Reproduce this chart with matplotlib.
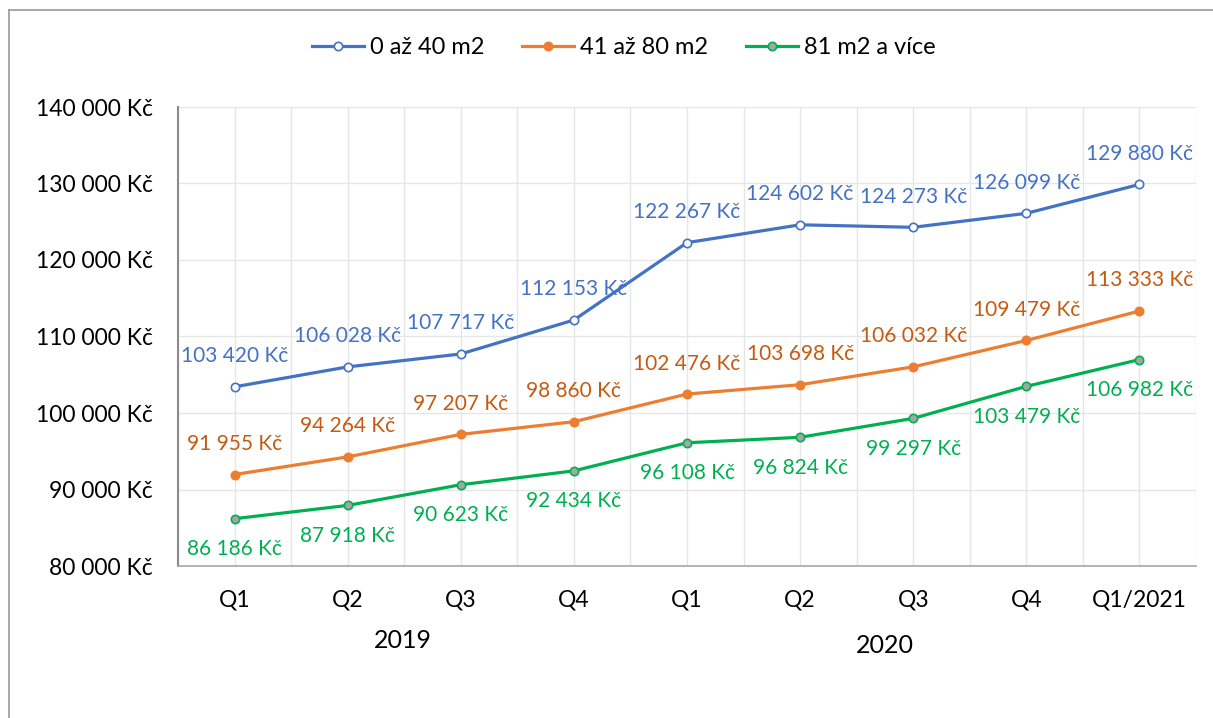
import matplotlib
matplotlib.use('Agg')
import matplotlib.pyplot as plt
from matplotlib.lines import Line2D

plt.rcParams['font.family'] = ['Lato', 'DejaVu Sans']

# data (Kč)
quarters = ['Q1', 'Q2', 'Q3', 'Q4', 'Q1', 'Q2', 'Q3', 'Q4', 'Q1/2021']
small = [103420, 106028, 107717, 112153, 122267, 124602, 124273, 126099, 129880]
medium = [91955, 94264, 97207, 98860, 102476, 103698, 106032, 109479, 113333]
large = [86186, 87918, 90623, 92434, 96108, 96824, 99297, 103479, 106982]
series_names = ['0 až 40 m2', '41 až 80 m2', '81 m2 a více']
yticks = [80000, 90000, 100000, 110000, 120000, 130000, 140000]


def kc(v):
    return '{:,}'.format(v).replace(',', ' ') + ' Kč'


fig = plt.figure(figsize=(12.13, 7.18), dpi=100)
ax = fig.add_axes([178/1213, 1-566/718, (1196-178)/1213, (566-107)/718])

x = list(range(len(quarters)))
styles = [
    # line colour, marker face, label colour, label offset (points)
    ('#4472C4', 'white', '#4472C4', 22),
    ('#ED7D31', '#ED7D31', '#C55A11', 22),
    ('#00B050', '#A5A5A5', '#00B050', -22),
]
handles = []
for vals, name, (col, face, lcol, off) in zip([small, medium, large], series_names, styles):
    ax.plot(x, vals, color=col, lw=2.3, marker='o', ms=6, mfc=face, mec=col, mew=1.2, zorder=3)
    handles.append(Line2D([], [], color=col, lw=2.3, marker='o', ms=6, mfc=face, mec=col, mew=1.2))
    for xi, v in zip(x, vals):
        ax.annotate(kc(v), (xi, v), xytext=(0, off), textcoords='offset points',
                    ha='center', va='center', fontsize=15, color=lcol)

ax.set_xlim(-0.5, len(quarters) - 0.5)
ax.set_ylim(80000, 140000)
ax.set_yticks(yticks)
ax.set_yticklabels([kc(v) for v in yticks], fontsize=16.5)
ax.set_xticks(x)
ax.set_xticklabels(quarters, fontsize=16.5)
ax.tick_params(length=0)
ax.tick_params(axis='x', pad=17)
ax.tick_params(axis='y', pad=18)

# gridlines at every category and between categories
for g in [i * 0.5 - 0.5 for i in range(2 * len(quarters) + 1)]:
    ax.axvline(g, color='#E6E6E6', lw=1, zorder=0)
for v in yticks:
    ax.axhline(v, color='#E6E6E6', lw=1, zorder=0)

for s in ['top', 'right']:
    ax.spines[s].set_visible(False)
ax.spines['left'].set_color('#8C8C8C')
ax.spines['left'].set_linewidth(1.5)
ax.spines['bottom'].set_color('#A6A6A6')
ax.spines['bottom'].set_linewidth(1.2)

# year group labels
ax.text(1.49, -0.163, '2019', transform=ax.get_xaxis_transform(), ha='center', va='center', fontsize=18)
ax.text(5.75, -0.174, '2020', transform=ax.get_xaxis_transform(), ha='center', va='center', fontsize=18)

fig.legend(handles, series_names, loc='center', bbox_to_anchor=(624/1213, 1-48/718), ncol=3,
           frameon=False, fontsize=17, handlelength=2.2, columnspacing=1.6, handletextpad=0.25)

# chart frame
fig.add_artist(Line2D([9/1213, 9/1213], [0, 1-10/718], color='#A0A0A0', lw=1.3))
fig.add_artist(Line2D([9/1213, 1], [1-10/718, 1-10/718], color='#A0A0A0', lw=1.3))

fig.savefig('out.png', dpi=100)
